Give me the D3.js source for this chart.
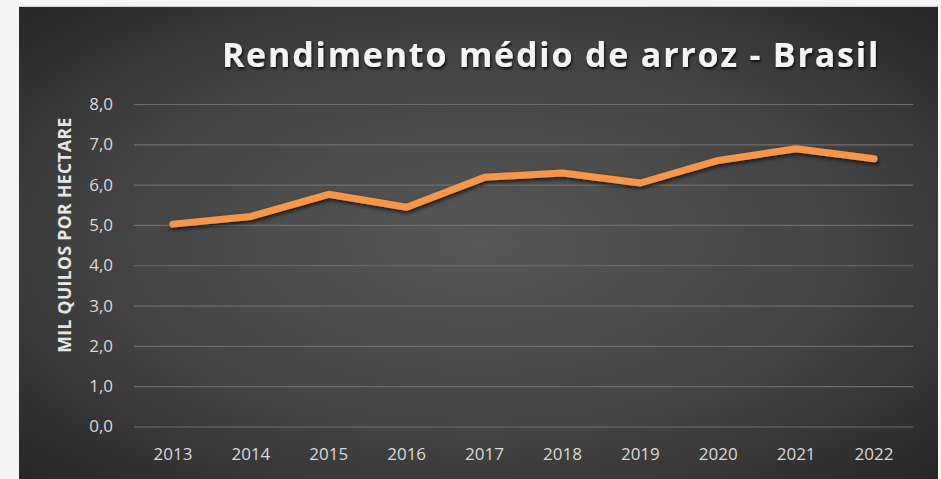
<!DOCTYPE html>
<html>
<head>
<meta charset="utf-8">
<script src="https://cdn.jsdelivr.net/npm/d3@7"></script>
<style>
  html, body { margin: 0; padding: 0; background: #f4f4f4; }
  svg { display: block; }
</style>
</head>
<body>
<svg id="chart" width="941" height="479"></svg>
<script>
// Rice yield in Brazil, thousand kg per hectare
const years = ["2013", "2014", "2015", "2016", "2017", "2018", "2019", "2020", "2021", "2022"];
const yieldValues = [5.02, 5.21, 5.76, 5.44, 6.18, 6.29, 6.04, 6.60, 6.89, 6.64];
const yTicks = [0, 1, 2, 3, 4, 5, 6, 7, 8];
const titleText = "Rendimento médio de arroz - Brasil";
const yAxisTitle = "MIL QUILOS POR HECTARE";

const svg = d3.select("#chart");
const W = 941, H = 479;

const defs = svg.append("defs");
const bg = defs.append("radialGradient")
  .attr("id", "bgGrad")
  .attr("cx", "50%").attr("cy", "50%").attr("r", "75%");
bg.append("stop").attr("offset", "0%").attr("stop-color", "#575757");
bg.append("stop").attr("offset", "55%").attr("stop-color", "#434343");
bg.append("stop").attr("offset", "100%").attr("stop-color", "#222222");

const lineShadow = defs.append("filter").attr("id", "lineShadow")
  .attr("x", "-10%").attr("y", "-50%").attr("width", "120%").attr("height", "200%");
lineShadow.append("feDropShadow")
  .attr("dx", 1).attr("dy", 2).attr("stdDeviation", 2)
  .attr("flood-color", "#000").attr("flood-opacity", 0.75);

const textShadow = defs.append("filter").attr("id", "textShadow")
  .attr("x", "-5%").attr("y", "-30%").attr("width", "110%").attr("height", "160%");
textShadow.append("feDropShadow")
  .attr("dx", 1).attr("dy", 2).attr("stdDeviation", 1.5)
  .attr("flood-color", "#000").attr("flood-opacity", 0.8);

// chart area
svg.append("rect")
  .attr("x", 19).attr("y", 6).attr("width", 919).attr("height", H - 6)
  .attr("fill", "url(#bgGrad)");
svg.append("line")
  .attr("x1", 19).attr("x2", 938).attr("y1", 6.5).attr("y2", 6.5)
  .attr("stroke", "#cfcfcf").attr("stroke-width", 1);

const plot = { left: 134, right: 913, top: 104, bottom: 426.5 };

const x = d3.scaleBand().domain(years).range([plot.left, plot.right]);
const y = d3.scaleLinear().domain([0, 8]).range([plot.bottom, plot.top]);

// gridlines and y labels
const yAxis = d3.axisLeft(y)
  .tickValues(yTicks)
  .tickSize(-(plot.right - plot.left))
  .tickPadding(21)
  .tickFormat(d => d3.format(".1f")(d).replace(".", ","));
const gy = svg.append("g")
  .attr("transform", `translate(${plot.left},0)`)
  .call(yAxis);
gy.select(".domain").remove();
gy.selectAll(".tick line").attr("stroke", "#6e6e6e").attr("stroke-width", 1.2);
gy.selectAll(".tick text")
  .attr("fill", "#d9d9d9")
  .attr("font-family", "'Open Sans', sans-serif")
  .attr("font-size", 17);

// x labels
const xAxis = d3.axisBottom(x).tickSize(0).tickPadding(21);
const gx = svg.append("g")
  .attr("transform", `translate(0,${plot.bottom})`)
  .call(xAxis);
gx.select(".domain").remove();
gx.selectAll(".tick text")
  .attr("fill", "#d9d9d9")
  .attr("font-family", "'Open Sans', sans-serif")
  .attr("font-size", 17);

// series line
const line = d3.line()
  .x((d, i) => x(years[i]) + x.bandwidth() / 2)
  .y(d => y(d));
svg.append("path")
  .datum(yieldValues)
  .attr("d", line)
  .attr("fill", "none")
  .attr("stroke", "#f7964a")
  .attr("stroke-width", 7)
  .attr("stroke-linejoin", "round")
  .attr("stroke-linecap", "round")
  .attr("filter", "url(#lineShadow)");

// y axis title
svg.append("text")
  .attr("transform", `translate(71,235) rotate(-90)`)
  .attr("text-anchor", "middle")
  .attr("fill", "#e6e6e6")
  .attr("font-family", "'Open Sans', sans-serif")
  .attr("font-weight", "bold")
  .attr("font-size", 17.5)
  .attr("letter-spacing", 0.4)
  .text(yAxisTitle);

// title
svg.append("text")
  .attr("x", 551).attr("y", 67)
  .attr("text-anchor", "middle")
  .attr("fill", "#f4f4f4")
  .attr("font-family", "'Open Sans', sans-serif")
  .attr("font-weight", "bold")
  .attr("font-size", 34)
  .attr("letter-spacing", 1.8)
  .attr("filter", "url(#textShadow)")
  .text(titleText);
</script>
</body>
</html>
